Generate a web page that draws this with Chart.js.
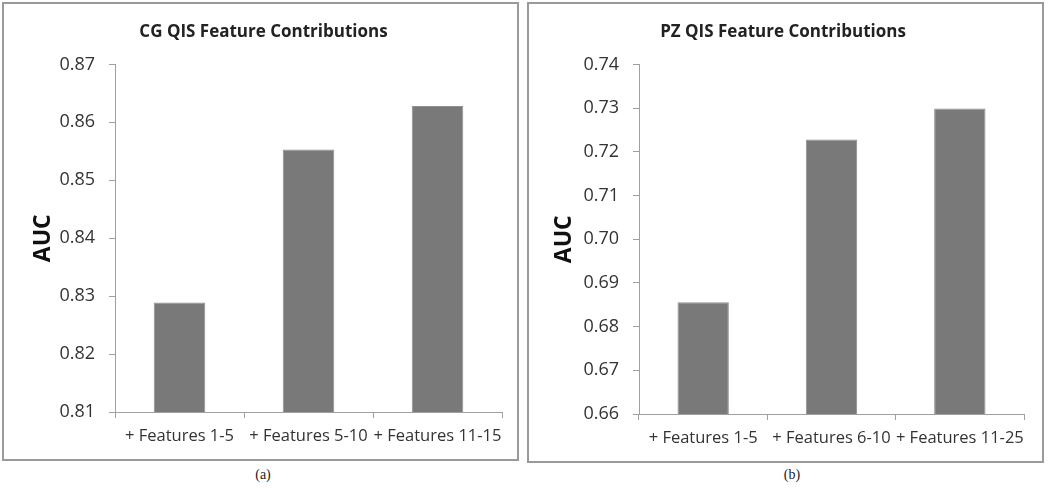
<html>
<head>
<script src="https://cdn.jsdelivr.net/npm/chart.js"></script>
<style>
body { margin:0; background:#fff; width:1050px; height:488px; position:relative; overflow:hidden }
.frame { position:absolute; border:2px solid #9a9a9a; box-sizing:border-box }
.box { position:absolute }
.cap { position:absolute; font-family:"Liberation Serif", serif; font-size:14px; color:#222; transform:translateX(-50%) }
</style>
</head>
<body>
<div class="frame" style="left:2px;top:2px;width:517px;height:459px"></div>
<div class="frame" style="left:527px;top:2px;width:517px;height:461px"></div>
<div class="box" style="left:5px;top:5px;width:510px;height:452px"><canvas id="cg"></canvas></div>
<div class="box" style="left:530px;top:5px;width:510px;height:454px"><canvas id="pz"></canvas></div>
<div class="cap" style="left:263px;top:467px">(a)</div>
<div class="cap" style="left:792px;top:467px">(b)</div>

<script>
// values
cgLabels = ["+ Features 1-5", "+ Features 5-10", "+ Features 11-15"]
cgAuc = [0.8289, 0.8553, 0.8628]
pzLabels = ["+ Features 1-5", "+ Features 6-10", "+ Features 11-25"]
pzAuc = [0.6856, 0.7228, 0.7299]

Chart.defaults.font.family = "'Open Sans'"
Chart.defaults.color = "#333"

function makeChart(id, title, labels, data, ymin, ymax, pad, yWidth, aucPad) {
  return new Chart(document.getElementById(id), {
    type: 'bar',
    data: {
      labels: labels,
      datasets: [{
        data: data,
        backgroundColor: '#797979',
        borderColor: '#8e8e8e',
        borderWidth: 1,
        barPercentage: 0.4,
        categoryPercentage: 1
      }]
    },
    options: {
      responsive: true,
      maintainAspectRatio: false,
      animation: false,
      layout: { padding: { left: pad[0], right: pad[1], top: 0, bottom: 0 } },
      plugins: {
        legend: { display: false },
        tooltip: { enabled: false },
        title: {
          display: true, text: title,
          font: { size: 17, weight: 'bold' }, color: '#222',
          padding: { top: 17, bottom: 22 }
        }
      },
      scales: {
        x: {
          grid: { offset: true, drawOnChartArea: false, tickLength: 6, color: '#a0a0a0' },
          border: { color: '#a0a0a0', width: 1 },
          ticks: { font: { size: 16.5 }, color: '#333', padding: 8, maxRotation: 0, autoSkip: false },
          afterFit: function(s) { s.height = 45 }
        },
        y: {
          min: ymin, max: ymax,
          grid: { drawOnChartArea: false, tickLength: 6, color: '#a0a0a0' },
          border: { color: '#a0a0a0', width: 1 },
          ticks: {
            stepSize: 0.01, font: { size: 18 }, color: '#333', padding: 14,
            callback: function(v) { return v.toFixed(2) }
          },
          title: {
            display: true, text: 'AUC', color: '#111',
            font: { size: 23, weight: 'bold' },
            padding: { top: aucPad, bottom: 0 }
          },
          afterFit: function(s) { s.width = yWidth }
        }
      }
    }
  })
}

makeChart('cg', 'CG QIS Feature Contributions', cgLabels, cgAuc, 0.81, 0.87, [20, 13], 90, 5)
makeChart('pz', 'PZ QIS Feature Contributions', pzLabels, pzAuc, 0.66, 0.74, [12, 16], 97, 9)
</script>
</body>
</html>
